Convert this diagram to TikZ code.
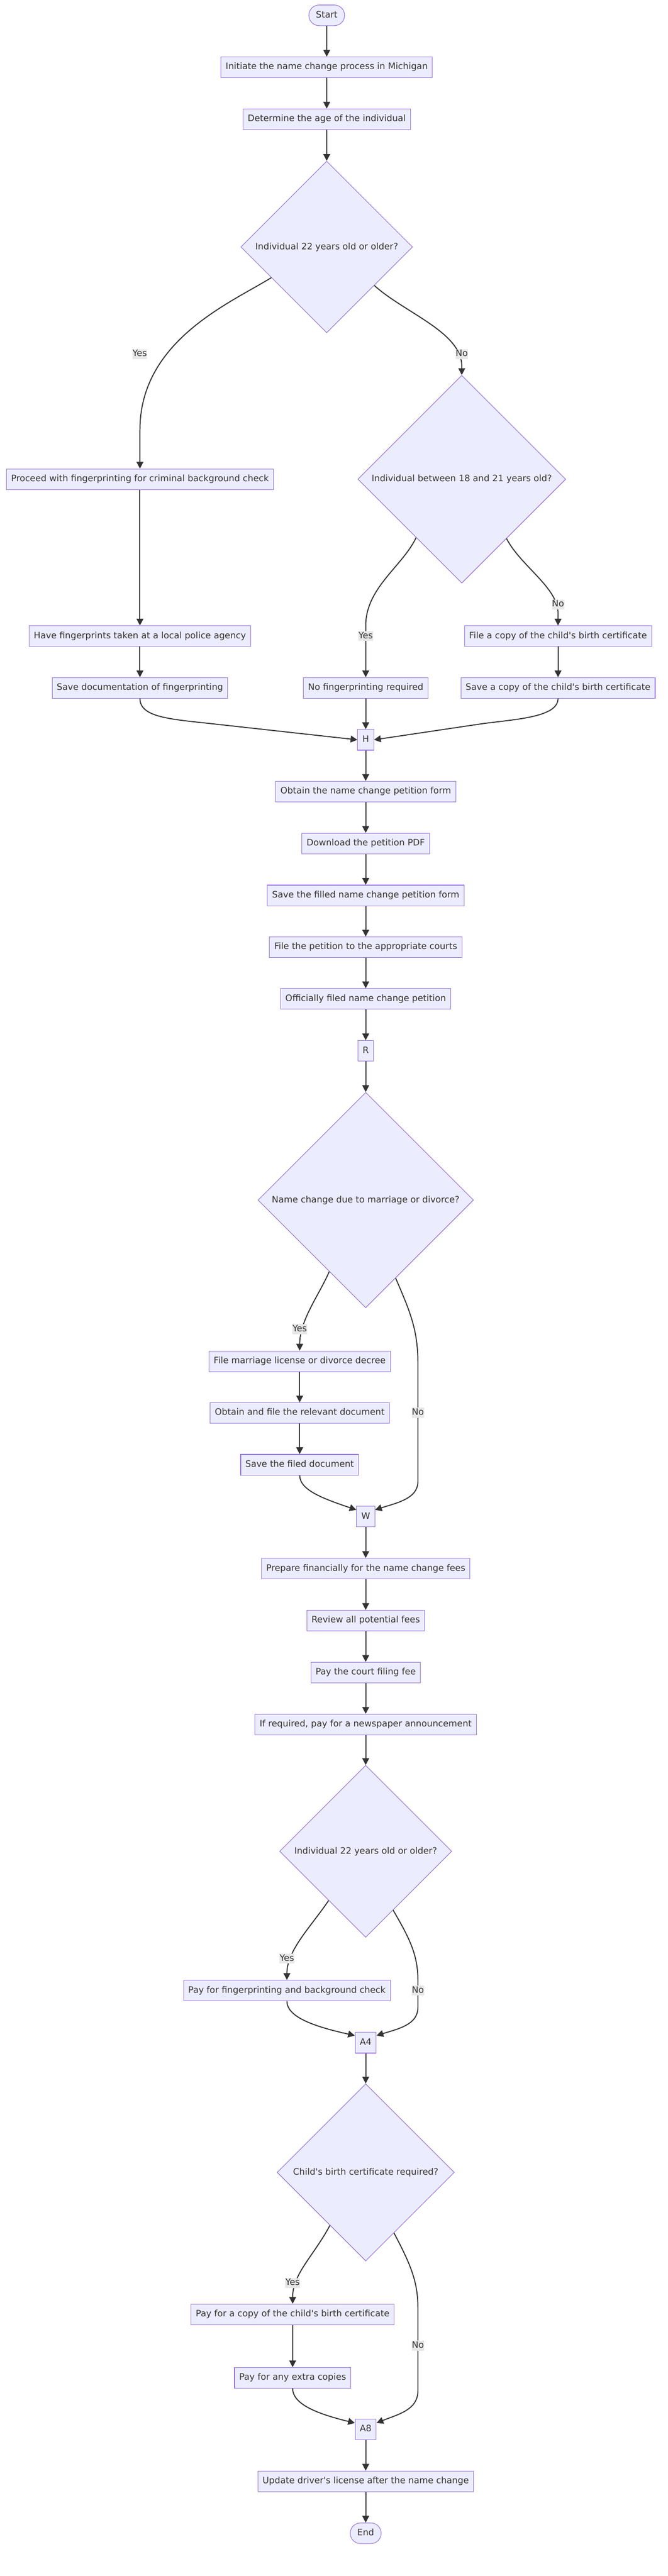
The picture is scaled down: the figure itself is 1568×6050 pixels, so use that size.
\documentclass[tikz,border=0pt]{standalone}
\usepackage{fontspec}
\setmainfont{DejaVu Sans}[Ligatures=TeXOff]
\usetikzlibrary{shapes.geometric,arrows.meta,calc}
\definecolor{boxfill}{HTML}{ECECFF}
\definecolor{boxline}{HTML}{9370DB}
\definecolor{edgecol}{HTML}{333333}
\definecolor{textcol}{HTML}{333333}
\definecolor{labelbg}{HTML}{E8E8E8}
\begin{document}
\begin{tikzpicture}[x=1pt,y=-1pt,
  font=\fontsize{20.8pt}{25pt}\selectfont,
  box/.style={rectangle, draw=boxline, fill=boxfill, line width=1.3pt,
    minimum height=48.5pt, inner xsep=11pt, inner ysep=0pt, text=textcol,
    text height=15pt, text depth=4.5pt},
  stadbox/.style={box, rounded corners=24pt, inner xsep=16.5pt},
  dia/.style={diamond, draw=boxline, fill=boxfill, line width=1.3pt,
    inner sep=0pt, minimum width=#1pt, minimum height=#1pt},
  every label/.style={text=textcol},
  edge/.style={draw=edgecol, line width=2.4pt,
    -{Triangle[length=16pt,width=16pt]}},
  elabel/.style={fill=labelbg, text=textcol, inner xsep=0.5pt, inner ysep=2pt,
    text height=15pt, text depth=4.5pt}
]
\useasboundingbox (0,0) rectangle (1568,6050);

% ---------------- nodes ----------------
\node[stadbox] (start) at (767,36) {Start};
\node[box] (n1) at (767,158) {Initiate the name change process in Michigan};
\node[box] (n2) at (767,280) {Determine the age of the individual};
\node[dia=403, label=center:{Individual 22 years old or older?}] (d1) at (767,580) {};
\node[box] (n3) at (328.5,1125.5) {Proceed with fingerprinting for criminal background check};
\node[dia=488, label=center:{Individual between 18 and 21 years old?}] (d2) at (1084,1125.5) {};
\node[box] (n4) at (328.5,1494) {Have fingerprints taken at a local police agency};
\node[box] (n5) at (1310,1494) {File a copy of the child's birth certificate};
\node[box] (n6) at (328.5,1615.5) {Save documentation of fingerprinting};
\node[box] (n7) at (858.5,1615.5) {No fingerprinting required};
\node[box] (n8) at (1310,1615.5) {Save a copy of the child's birth certificate};
\node[box] (h) at (858.5,1737.5) {H};
\node[box] (n9) at (858.5,1859) {Obtain the name change petition form};
\node[box] (n10) at (858.5,1981) {Download the petition PDF};
\node[box] (n11) at (858.5,2103) {Save the filled name change petition form};
\node[box] (n12) at (858.5,2224.5) {File the petition to the appropriate courts};
\node[box] (n13) at (858.5,2346) {Officially filed name change petition};
\node[box] (r) at (858.5,2468) {R};
\node[dia=506, label=center:{Name change due to marriage or divorce?}] (d3) at (858.5,2818.5) {};
\node[box] (n14) at (703.5,3197) {File marriage license or divorce decree};
\node[box] (n15) at (703.5,3318.5) {Obtain and file the relevant document};
\node[box] (n16) at (703.5,3440) {Save the filed document};
\node[box] (w) at (858.5,3562) {W};
\node[box] (n17) at (858.5,3684) {Prepare financially for the name change fees};
\node[box] (n18) at (858.5,3806) {Review all potential fees};
\node[box] (n19) at (858.5,3928) {Pay the court filing fee};
\node[box] (n20) at (858.5,4050) {If required, pay for a newspaper announcement};
\node[dia=404, label=center:{Individual 22 years old or older?}] (d4) at (858.5,4348) {};
\node[box] (n21) at (673.5,4675) {Pay for fingerprinting and background check};
\node[box] (a4) at (858.5,4797.5) {A4};
\node[dia=416, label=center:{Child's birth certificate required?}] (d5) at (858.5,5102) {};
\node[box] (n22) at (687,5435.5) {Pay for a copy of the child's birth certificate};
\node[box] (n23) at (687,5584.5) {Pay for any extra copies};
\node[box] (a8) at (858.5,5705.5) {A8};
\node[box] (n24) at (858.5,5827.5) {Update driver's license after the name change};
\node[stadbox] (end) at (858.5,5949.5) {End};

% ---------------- edges ----------------
\draw[edge] (start) -- (n1);
\draw[edge] (n1) -- (n2);
\draw[edge] (n2) -- (d1);
\draw[edge] (d1.209.5) .. controls (540,712) and (328.5,800) .. (328.5,1010) -- (n3.north);
\draw[edge] (d1.321.8) .. controls (950,735) and (1084,780) .. (1084,860) -- (d2.north);
\draw[edge] (n3) -- (n4);
\draw[edge] (n4) -- (n6);
\draw[edge] (d2.232.5) .. controls (945,1330) and (858.5,1380) .. (858.5,1470) -- (n7.north);
\draw[edge] (d2.307.5) .. controls (1223,1330) and (1310,1380) .. (1310,1440) -- (n5.north);
\draw[edge] (n5) -- (n8);
\draw[edge] (n6.south) .. controls (328.5,1685) and (400,1689) .. (500,1700) -- (h.west);
\draw[edge] (n7) -- (h);
\draw[edge] (n8.south) .. controls (1310,1685) and (1210,1689) .. (1130,1700) -- (h.east);
\draw[edge] (h) -- (n9);
\draw[edge] (n9) -- (n10);
\draw[edge] (n10) -- (n11);
\draw[edge] (n11) -- (n12);
\draw[edge] (n12) -- (n13);
\draw[edge] (n13) -- (r);
\draw[edge] (r) -- (d3);
\draw[edge] (d3.243) .. controls (750,3040) and (703.5,3100) .. (n14.north);
\draw[edge] (d3.291.6) .. controls (960,3075) and (981,3120) .. (981,3200) -- (981,3480)
  .. controls (981,3520) and (930,3530) .. ($(w.north east)+(0,9)$);
\draw[edge] (n14) -- (n15);
\draw[edge] (n15) -- (n16);
\draw[edge] (n16.south) .. controls (703.5,3500) and (760,3520) .. ($(w.north west)+(0,9)$);
\draw[edge] (w) -- (n17);
\draw[edge] (n17) -- (n18);
\draw[edge] (n18) -- (n19);
\draw[edge] (n19) -- (n20);
\draw[edge] (n20) -- (d4);
\draw[edge] (d4.233.7) .. controls (730,4525) and (673.5,4580) .. (n21.north);
\draw[edge] (d4.295.7) .. controls (960,4550) and (981,4590) .. (981,4650) -- (981,4715)
  .. controls (981,4755) and (935,4765) .. ($(a4.north east)+(0,8)$);
\draw[edge] (n21.south) .. controls (673.5,4735) and (730,4758) .. ($(a4.north west)+(0,8)$);
\draw[edge] (a4) -- (d5);
\draw[edge] (d5.236.7) .. controls (735,5300) and (687,5340) .. (n22.north);
\draw[edge] (d5.295.4) .. controls (965,5320) and (981,5360) .. (981,5420) -- (981,5615)
  .. controls (981,5660) and (935,5670) .. ($(a8.north east)+(0,10)$);
\draw[edge] (n22) -- (n23);
\draw[edge] (n23.south) .. controls (687,5645) and (740,5668) .. ($(a8.north west)+(0,10)$);
\draw[edge] (a8) -- (n24);
\draw[edge] (n24) -- (end);

% ---------------- edge labels ----------------
\node[elabel] (l1) at (328,832) {Yes};
\node[elabel] (l2) at (1084,832) {No};
\node[elabel] (l3) at (858.5,1494) {Yes};
\node[elabel] (l4) at (1310,1420) {No};
\node[elabel] (l5) at (703.5,3122) {Yes};
\node[elabel] (l6) at (981,3318) {No};
\node[elabel] (l7) at (673.5,4600) {Yes};
\node[elabel] (l8) at (981,4675) {No};
\node[elabel] (l9) at (687,5362) {Yes};
\node[elabel] (l10) at (981,5509) {No};
\end{tikzpicture}
\end{document}
